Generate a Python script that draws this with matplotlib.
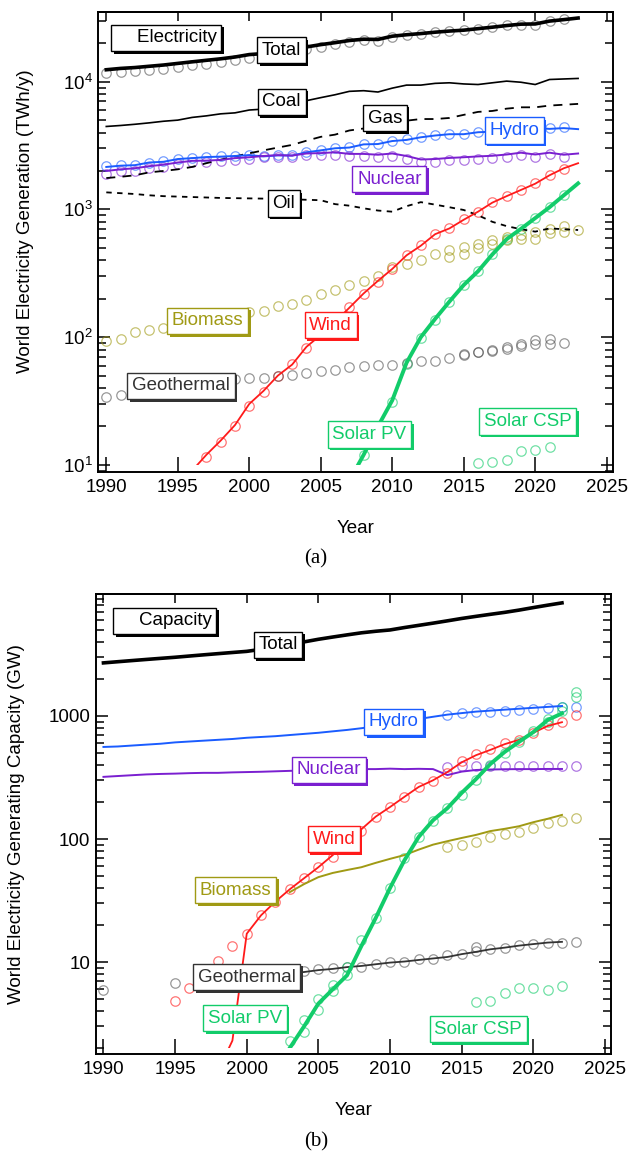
import numpy as np
import matplotlib
matplotlib.use("Agg")
import matplotlib.pyplot as plt
import matplotlib.patheffects as pe
from matplotlib.patches import Rectangle
from matplotlib.ticker import LogLocator, FuncFormatter, NullFormatter, FixedLocator

plt.rcParams['font.family'] = ['Liberation Sans', 'DejaVu Sans']
plt.rcParams['mathtext.fontset'] = 'custom'
plt.rcParams['mathtext.rm'] = 'Liberation Sans'
plt.rcParams['mathtext.it'] = 'Liberation Sans:italic'
plt.rcParams['mathtext.bf'] = 'Liberation Sans:bold'

# ---------------- (a) generation, TWh/y ----------------
years_gen = list(range(1990, 2024))
total_gen = [12400, 12700, 12900, 13200, 13500, 13900, 14300, 14700, 15100, 15600,
             16300, 16600, 17200, 17900, 18700, 19500, 20200, 21000, 21500, 21400,
             22700, 23300, 23800, 24400, 24900, 25300, 26000, 26700, 27500, 28200,
             28300, 29800, 30600, 31500]
years_total_pts = list(range(1990, 2023))
total_gen_pts = [11700, 11900, 12100, 12300, 12600, 13000, 13400, 13800, 14200, 14700,
                 15300, 15600, 16300, 17000, 17900, 18800, 19600, 20500, 21100, 21000,
                 22400, 23200, 23800, 24400, 24800, 25200, 25900, 26700, 27600, 28000,
                 27900, 29700, 31000]
coal_gen = [4460, 4540, 4640, 4760, 4900, 5000, 5250, 5400, 5600, 5700,
            6000, 6100, 6400, 6900, 7100, 7500, 7900, 8400, 8500, 8300,
            8900, 9400, 9400, 9700, 9800, 9600, 9500, 9800, 10100, 9900,
            9500, 10400, 10500, 10600]
gas_gen = [1760, 1800, 1850, 1950, 2000, 2060, 2150, 2300, 2450, 2600,
           2750, 2900, 3050, 3200, 3450, 3700, 3850, 4150, 4300, 4300,
           4850, 4950, 5100, 5100, 5200, 5500, 5800, 5900, 6150, 6300,
           6300, 6500, 6600, 6700]
oil_gen = [1360, 1340, 1320, 1290, 1270, 1260, 1250, 1240, 1230, 1225,
           1220, 1215, 1210, 1200, 1190, 1180, 1100, 1070, 1020, 980,
           960, 1060, 1140, 1090, 1040, 990, 900, 800, 740, 700,
           670, 710, 700, 690]
hydro_gen = [2150, 2200, 2220, 2330, 2360, 2480, 2520, 2570, 2590, 2620,
             2660, 2600, 2650, 2640, 2800, 2900, 3010, 3050, 3230, 3250,
             3430, 3500, 3670, 3790, 3880, 3880, 4020, 4060, 4180, 4230,
             4350, 4270, 4330, 4250]
hydro_gen_pts = [2180, 2220, 2230, 2320, 2380, 2490, 2540, 2580, 2600, 2640,
                 2680, 2620, 2660, 2660, 2820, 2920, 3040, 3090, 3250, 3260,
                 3450, 3530, 3700, 3830, 3900, 3920, 4050, 4100, 4220, 4260,
                 4400, 4300, 4380]
nuclear_gen = [2000, 2060, 2100, 2180, 2240, 2330, 2400, 2410, 2440, 2520,
               2560, 2620, 2660, 2640, 2740, 2760, 2800, 2720, 2720, 2680,
               2740, 2620, 2460, 2480, 2530, 2560, 2600, 2630, 2690, 2780,
               2690, 2780, 2680, 2740]
nuclear_gen_pts = [1900, 2000, 2000, 2100, 2150, 2250, 2330, 2350, 2380, 2450,
                   2480, 2550, 2580, 2570, 2650, 2650, 2680, 2620, 2600, 2570,
                   2630, 2500, 2350, 2370, 2420, 2440, 2480, 2520, 2580, 2680,
                   2580, 2700, 2580]
years_wind_gen = list(range(1996, 2024))
wind_gen = [9.0, 12, 15.5, 20.5, 30, 38, 50, 61, 84, 104,
            132, 170, 220, 276, 342, 437, 520, 640, 710, 830,
            960, 1130, 1270, 1420, 1590, 1850, 2100, 2300]
years_wind_gen_pts = list(range(1997, 2023))
wind_gen_pts = [11.5, 15, 20, 29, 37, 50, 62, 83, 104, 133,
                172, 218, 272, 342, 436, 525, 645, 715, 835, 960,
                1135, 1270, 1420, 1600, 1850, 2080]
years_pv_gen = list(range(2007, 2024))
pv_gen = [7.5, 12, 20, 32, 63, 100, 139, 190, 256, 328,
          444, 585, 704, 855, 1040, 1290, 1600]
years_pv_gen_pts = list(range(2008, 2023))
pv_gen_pts = [12, 20, 31, 62, 98, 137, 190, 255, 330, 445, 585, 700, 850, 1040, 1290]
biomass_gen_a = [93, 96, 110, 113, 118, 125, 132, 140, 146, 152,
                 158, 160, 176, 183, 195, 218, 233, 254, 273, 300,
                 353, 372, 400, 445, 482, 508, 540, 575, 611, 634,
                 668, 707, 746, 695]
years_biomass_gen_b = list(range(2014, 2023))
biomass_gen_b = [423, 450, 500, 540, 580, 590, 590, 650, 670]
years_geo_gen_a = list(range(1990, 2023))
geo_gen_a = [34, 35, 37, 38, 40, 41, 43, 44, 45, 47,
             48, 48, 50, 51, 52, 54, 55, 58, 60, 61,
             61, 63, 65, 65, 69, 72, 76, 80, 84, 89,
             95, 97, 90]
years_geo_gen_b = list(range(2015, 2022))
geo_gen_b = [74, 77, 78, 81, 86, 88, 88]
years_csp_gen = list(range(2016, 2022))
csp_gen = [10.3, 10.6, 11.0, 12.8, 13.0, 13.8]

# ---------------- (b) capacity, GW ----------------
years_cap = list(range(1990, 2023))
total_cap = [2700, 2760, 2820, 2880, 2940, 3000, 3070, 3140, 3210, 3280,
             3350, 3480, 3620, 3800, 4000, 4200, 4380, 4560, 4740, 4880,
             5000, 5230, 5450, 5680, 5930, 6200, 6450, 6700, 6950, 7250,
             7600, 7950, 8300]
hydro_cap = [560, 565, 575, 585, 595, 610, 620, 630, 640, 650,
             665, 675, 685, 700, 715, 730, 750, 770, 795, 825,
             865, 905, 945, 985, 1025, 1055, 1085, 1105, 1125, 1145,
             1165, 1185, 1205]
years_hydro_cap_pts = list(range(2014, 2024))
hydro_cap_pts = [1020, 1050, 1070, 1085, 1100, 1120, 1130, 1150, 1185, 1185]
nuclear_cap = [320, 325, 330, 335, 338, 340, 343, 345, 345, 348,
               350, 352, 355, 358, 362, 365, 368, 370, 370, 370,
               373, 370, 372, 370, 331, 353, 364, 367, 369, 370,
               370, 371, 371]
nuclear_cap_pts = [385, 392, 395, 395, 395, 395, 395, 392, 395, 395]
years_wind_cap = list(range(1998, 2023))
wind_cap = [1.3, 2.3, 17, 24, 31, 39, 48, 59, 74, 94,
            120, 152, 182, 220, 265, 300, 350, 420, 480, 530,
            590, 640, 730, 830, 890]
years_wind_cap_pts = list(range(1995, 2024))
wind_cap_pts = [4.8, 6.2, 7.6, 10.2, 13.5, 17, 24, 31, 39, 48,
                59, 72, 92, 116, 151, 182, 220, 265, 298, 345,
                430, 490, 540, 600, 640, 730, 845, 895, 1020]
years_biomass_cap = list(range(2003, 2023))
biomass_cap = [37, 43, 49, 53, 56, 59, 64, 69, 74, 82,
               90, 96, 102, 108, 116, 121, 127, 137, 146, 157]
years_biomass_cap_pts = list(range(2014, 2024))
biomass_cap_pts = [86, 90, 95, 104, 110, 115, 123, 135, 140, 148]
years_geo_cap = list(range(2003, 2023))
geo_cap = [8.1, 8.3, 8.6, 8.8, 9.1, 9.3, 9.6, 9.9, 10.1, 10.4,
           10.7, 11.0, 11.6, 12.1, 12.7, 13.1, 13.6, 14.0, 14.4, 14.6]
years_geo_cap_pts = [1990, 1995, 2004, 2005, 2006, 2007, 2008, 2009, 2010, 2011, 2012,
                     2013, 2014, 2015, 2016, 2016, 2017, 2018, 2019, 2020, 2021, 2022, 2023]
geo_cap_pts = [5.9, 6.7, 8.4, 8.8, 8.9, 9.1, 9.1, 9.6, 10.0, 10.0, 10.6,
               10.6, 11.4, 11.7, 12.3, 13.3, 12.8, 13.1, 13.8, 14.0, 14.3, 14.3, 14.6]
years_pv_cap = list(range(2003, 2023))
pv_cap = [2.0, 3.0, 4.6, 6.0, 7.8, 13.5, 22.8, 40, 67, 104,
          142, 178, 237, 307, 407, 510, 616, 740, 927, 1050]
years_pv_cap_pts = [2003, 2004, 2004, 2005, 2005, 2006, 2006, 2007, 2007, 2008, 2009,
                    2010, 2011, 2012, 2013, 2014, 2015, 2016, 2017, 2018, 2019,
                    2020, 2021, 2021, 2022, 2022, 2023, 2023]
pv_cap_pts = [2.3, 3.4, 2.7, 5.0, 4.1, 6.5, 5.8, 7.8, 9.1, 15, 23,
              40, 70, 104, 140, 178, 230, 300, 400, 500, 620,
              750, 950, 900, 1190, 1100, 1570, 1420]
years_csp_cap = list(range(2016, 2023))
csp_cap = [4.7, 4.8, 5.6, 6.1, 6.2, 5.9, 6.4]

# ---------------- styling ----------------
C_BLACK = '#000000'
C_GREY = '#555555'
C_DARK = '#333333'
C_BLUE = '#1a5cff'
C_PURPLE = '#7a1fd0'
C_RED = '#ff1a1a'
C_GREEN = '#12cc6a'
C_OLIVE = '#a09a14'
FS = 13.5
W, H = 629, 1152

fig = plt.figure(figsize=(W / 100, H / 100), dpi=100)


def px_axes(left, right, top, bottom):
    return fig.add_axes([left / W, 1 - bottom / H, (right - left) / W, (bottom - top) / H])


ax1 = px_axes(98, 612.7, 11.7, 472)
ax2 = px_axes(96, 610.7, 594, 1054.3)


def circles(ax, x, y, color, alpha=0.6):
    ax.plot(x, y, 'o', mfc='none', mec=color, ms=6.8, mew=0.9, alpha=alpha, zorder=3)


def clipped_line(ax, x, y, ymin, **kw):
    ln, = ax.plot(x, y, **kw)
    ln.set_clip_path(Rectangle((1980, ymin), 60, 1e7, transform=ax.transData))
    return ln


def label(ax, x, y, text, color):
    t = ax.text(x, y, text, color=color, fontsize=FS, ha='center', va='center', zorder=10,
                bbox=dict(boxstyle='square,pad=0.25', fc='white', ec=color, lw=1.0))
    t.get_bbox_patch().set_path_effects([
        pe.SimplePatchShadow(offset=(1.8, -1.8), shadow_rgbFace=color, alpha=1.0),
        pe.Normal()])
    return t


def style_axes(ax, xl, ylab, ylab_pos):
    ax.set_yscale('log')
    ax.set_xlim(*xl)
    ax.set_xticks(range(1990, 2030, 5))
    ax.tick_params(which='both', direction='in', right=True, labelsize=FS, width=1.1)
    ax.tick_params(axis='x', which='major', length=10.8, pad=5)
    ax.tick_params(axis='y', which='major', length=8.5, pad=4)
    ax.tick_params(axis='y', which='minor', length=5.8)
    sec = ax.secondary_xaxis('top')
    sec.set_xticks(range(1990, 2030, 5))
    sec.tick_params(direction='in', length=6.8, width=1.1, labeltop=False)
    for s in list(ax.spines.values()) + list(sec.spines.values()):
        s.set_linewidth(1.4)
    ax.set_xlabel('Year', fontsize=FS)
    ax.xaxis.label.set_va('center')
    ax.xaxis.set_label_coords(0.5, -0.122)
    ax.set_ylabel(ylab, fontsize=FS)
    ax.yaxis.label.set_va('center')
    ax.yaxis.set_label_coords(*ylab_pos)


# ---- panel (a)
ax = ax1
ax.plot(years_gen, total_gen, color=C_BLACK, lw=2.6, zorder=4)
circles(ax, years_total_pts, total_gen_pts, C_GREY)
ax.plot(years_gen, coal_gen, color=C_BLACK, lw=1.2, zorder=4)
ax.plot(years_gen, gas_gen, color=C_BLACK, lw=1.3, dashes=(5, 4), zorder=4)
ax.plot(years_gen, oil_gen, color=C_BLACK, lw=1.3, dashes=(3, 3), zorder=4)
ax.plot(years_gen, hydro_gen, color=C_BLUE, lw=1.4, zorder=4)
circles(ax, years_total_pts, hydro_gen_pts, C_BLUE)
ax.plot(years_gen, nuclear_gen, color=C_PURPLE, lw=1.4, zorder=4)
circles(ax, years_total_pts, nuclear_gen_pts, C_PURPLE)
clipped_line(ax, years_wind_gen, wind_gen, 10, color=C_RED, lw=1.3, zorder=4)
circles(ax, years_wind_gen_pts, wind_gen_pts, C_RED)
clipped_line(ax, years_pv_gen, pv_gen, 10, color=C_GREEN, lw=2.8, zorder=4)
circles(ax, years_pv_gen_pts, pv_gen_pts, C_GREEN)
circles(ax, years_gen, biomass_gen_a, C_OLIVE)
circles(ax, years_biomass_gen_b, biomass_gen_b, C_OLIVE)
circles(ax, years_geo_gen_a, geo_gen_a, C_GREY)
circles(ax, years_geo_gen_b, geo_gen_b, C_GREY)
circles(ax, years_csp_gen, csp_gen, C_GREEN)
style_axes(ax, (1989.42, 2025.42), 'World Electricity Generation (TWh/y)', (-0.14, 0.545))
ax.set_ylim(8.8, 35300)
ax.yaxis.set_major_locator(LogLocator(base=10))
ax.yaxis.set_minor_locator(LogLocator(base=10, subs=np.arange(2, 10)))
ax.yaxis.set_minor_formatter(NullFormatter())

label(ax, 1994.2, 22000, '    Electricity', C_BLACK)
label(ax, 2002.26, 17600, 'Total', C_BLACK)
label(ax, 2002.26, 6935, 'Coal', C_BLACK)
label(ax, 2009.5, 5180, 'Gas', C_BLACK)
label(ax, 2018.53, 4160, 'Hydro', C_BLUE)
label(ax, 2009.8, 1730, 'Nuclear', C_PURPLE)
label(ax, 2002.4, 1116, 'Oil', C_BLACK)
label(ax, 1997.1, 134, 'Biomass', C_OLIVE)
label(ax, 2005.7, 124, 'Wind', C_RED)
label(ax, 1995.23, 41.6, 'Geothermal', C_DARK)
label(ax, 2008.4, 17.3, 'Solar PV', C_GREEN)
label(ax, 2019.46, 21.9, 'Solar CSP', C_GREEN)

# ---- panel (b)
ax = ax2
ax.plot(years_cap, total_cap, color=C_BLACK, lw=2.6, zorder=4)
ax.plot(years_cap, hydro_cap, color=C_BLUE, lw=1.4, zorder=4)
circles(ax, years_hydro_cap_pts, hydro_cap_pts, C_BLUE)
ax.plot(years_cap, nuclear_cap, color=C_PURPLE, lw=1.4, zorder=4)
circles(ax, years_hydro_cap_pts, nuclear_cap_pts, C_PURPLE)
clipped_line(ax, years_wind_cap, wind_cap, 2.0, color=C_RED, lw=1.3, zorder=4)
circles(ax, years_wind_cap_pts, wind_cap_pts, C_RED)
ax.plot(years_biomass_cap, biomass_cap, color=C_OLIVE, lw=1.4, zorder=4)
circles(ax, years_biomass_cap_pts, biomass_cap_pts, C_OLIVE)
ax.plot(years_geo_cap, geo_cap, color=C_DARK, lw=1.3, zorder=4)
circles(ax, years_geo_cap_pts, geo_cap_pts, C_GREY)
clipped_line(ax, years_pv_cap, pv_cap, 2.0, color=C_GREEN, lw=2.8, zorder=4)
circles(ax, years_pv_cap_pts, pv_cap_pts, C_GREEN)
circles(ax, years_csp_cap, csp_cap, C_GREEN)
style_axes(ax, (1989.48, 2025.4), 'World Electricity Generating Capacity (GW)', (-0.1535, 0.5))
ax.set_ylim(1.78, 9800)
ax.yaxis.set_major_locator(FixedLocator([10, 100, 1000]))
ax.yaxis.set_major_formatter(FuncFormatter(lambda v, p: f"{v:g}"))
ax.yaxis.set_minor_locator(LogLocator(base=10, subs=np.arange(2, 10)))
ax.yaxis.set_minor_formatter(NullFormatter())

label(ax, 1994.27, 5920, '    Capacity', C_BLACK)
label(ax, 2002.18, 3780, 'Total', C_BLACK)
label(ax, 2010.26, 894, 'Hydro', C_BLUE)
label(ax, 2005.72, 364, 'Nuclear', C_PURPLE)
label(ax, 2006.08, 100, 'Wind', C_RED)
label(ax, 1999.23, 38.5, 'Biomass', C_OLIVE)
label(ax, 2000.0, 7.55, 'Geothermal', C_DARK)
label(ax, 1999.88, 3.5, 'Solar PV', C_GREEN)
label(ax, 2016.16, 2.85, 'Solar CSP', C_GREEN)

fig.text(316 / W, 1 - 559 / H, '(a)', ha='center', va='center', fontsize=15,
         family='Liberation Serif')
fig.text(316 / W, 1 - 1141.7 / H, '(b)', ha='center', va='center', fontsize=15,
         family='Liberation Serif')

fig.savefig('out.png', dpi=100)
